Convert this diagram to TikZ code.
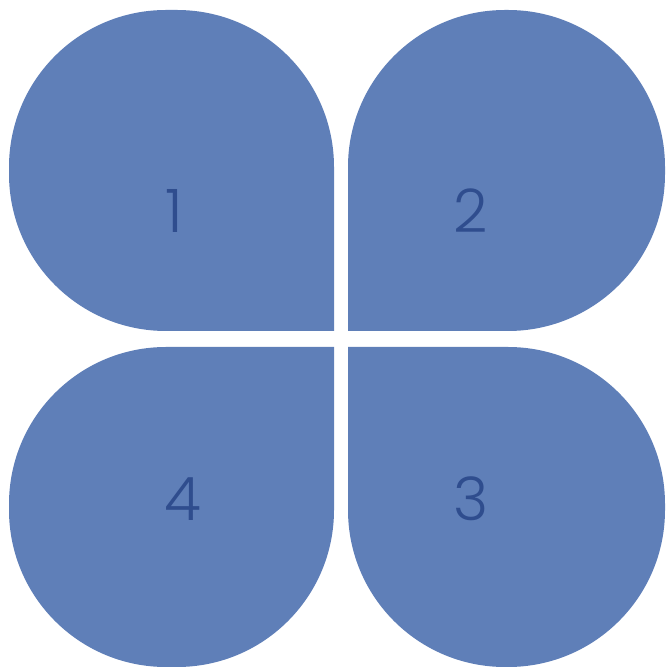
\documentclass[tikz,border=0pt]{standalone}
\usepackage{fontspec}
\setmainfont{Poppins}[UprightFont=* Light]
\definecolor{petal}{HTML}{5F7FB8}
\definecolor{numtext}{HTML}{2F4D8E}
\begin{document}
\begin{tikzpicture}[x=1pt,y=1pt,
  petalshape/.style={fill=petal,draw=none},
  numlabel/.style={text=numtext,font=\fontsize{60}{60}\selectfont,inner sep=0pt}]
\useasboundingbox (0,0) rectangle (666,669);
\def\r{157}
% top-left (sharp bottom-right)
\path[petalshape] (334,338) -- (334,659-\r) arc[start angle=0,end angle=90,radius=\r]
  -- (9+\r,659) arc[start angle=90,end angle=180,radius=\r]
  -- (9,338+\r) arc[start angle=180,end angle=270,radius=\r] -- cycle;
% top-right (sharp bottom-left)
\path[petalshape] (348,338) -- (348,659-\r) arc[start angle=180,end angle=90,radius=\r]
  -- (665-\r,659) arc[start angle=90,end angle=0,radius=\r]
  -- (665,338+\r) arc[start angle=0,end angle=-90,radius=\r] -- cycle;
% bottom-left (sharp top-right)
\path[petalshape] (334,322) -- (9+\r,322) arc[start angle=90,end angle=180,radius=\r]
  -- (9,2+\r) arc[start angle=180,end angle=270,radius=\r]
  -- (334-\r,2) arc[start angle=270,end angle=360,radius=\r] -- cycle;
% bottom-right (sharp top-left)
\path[petalshape] (348,322) -- (665-\r,322) arc[start angle=90,end angle=0,radius=\r]
  -- (665,2+\r) arc[start angle=0,end angle=-90,radius=\r]
  -- (348+\r,2) arc[start angle=270,end angle=180,radius=\r] -- cycle;
\node[numlabel] (n1) at (174,458) {1};
\node[numlabel] (n2) at (471,458) {2};
\node[numlabel] (n4) at (183,170) {4};
\node[numlabel] (n3) at (471,170) {3};
\end{tikzpicture}
\end{document}
